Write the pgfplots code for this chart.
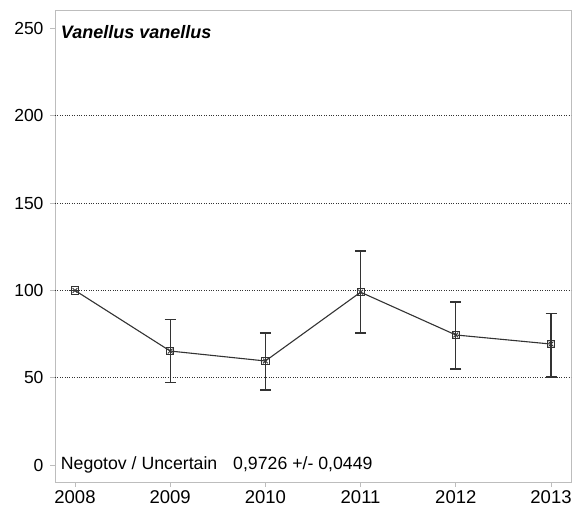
\documentclass[border=0pt]{standalone}
\usepackage{pgfplots}
\pgfplotsset{compat=1.18}
\usepackage{fontspec}
\setmainfont{Liberation Sans}
\definecolor{axgray}{HTML}{BDBDBD}
\definecolor{linegray}{HTML}{333333}
\begin{document}
\begin{tikzpicture}
\begin{axis}[
  name=ax,
  scale only axis,
  width=516pt, height=472pt,
  xmin=2007.79, xmax=2013.21,
  ymin=-9.7, ymax=260.6,
  xtick={2008,2009,2010,2011,2012,2013},
  xticklabel style={/pgf/number format/1000 sep=, font=\fontsize{18.5}{20}\selectfont},
  yticklabel style={font=\fontsize{17.5}{19}\selectfont, xshift=-3pt},
  ytick={0,50,100,150,200,250},
  /pgf/number format/assume math mode=true,
  tick label style={text=black},
  axis line style={axgray, line width=0.9pt},
  tick style={axgray, line width=0.9pt},
  tick align=outside,
  major tick length=5pt,
  xtick pos=bottom, ytick pos=left,
  extra y ticks={50,100,150,200},
  extra y tick labels={},
  extra y tick style={grid=major, major tick length=0pt},
  grid style={linegray, dotted, line width=0.9pt},
  clip=false,
]
\addplot[linegray, line width=1.1pt, mark=square, mark size=3.6pt,
  mark options={solid, line width=0.9pt},
  error bars/.cd, y dir=both, y explicit,
  error bar style={linegray, line width=1.1pt},
  error mark options={rotate=90, mark size=5.5pt, line width=1.1pt, linegray}]
  table[x=x, y=y, y error plus=ep, y error minus=em] {
  x y ep em
  2008 100 0 0
  2009 65.3 18.3 17.8
  2010 59.6 16.0 16.6
  2011 99.0 23.6 23.4
  2012 74.5 18.9 19.5
  2013 69.3 17.7 18.9
  };
\addplot[only marks, linegray, mark=x, mark size=3.4pt, mark options={line width=0.9pt}]
  table[x=x, y=y] {
  x y
  2008 100
  2009 65.3
  2010 59.6
  2011 99.0
  2012 74.5
  2013 69.3
  };
\node[anchor=base west, inner sep=0pt, font=\fontsize{17.7}{20}\selectfont] at (axis cs:2007.85,-2.3)
  {Negotov / Uncertain\hspace{0.9em}0,9726 +/- 0,0449};
\node[anchor=base west, inner sep=0pt, font=\fontsize{18}{20}\itshape\bfseries] at (axis cs:2007.85,244)
  {Vanellus vanellus};
\end{axis}
\pgfresetboundingbox
\path[use as bounding box] ([shift={(-55pt,-29pt)}]ax.south west) rectangle ([shift={(3pt,10pt)}]ax.north east);
\end{tikzpicture}
\end{document}
